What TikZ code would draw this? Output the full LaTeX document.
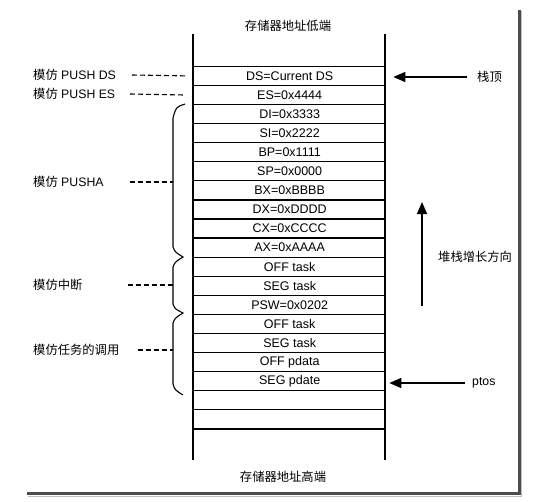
\documentclass[tikz,border=0pt]{standalone}
\usepackage{fontspec}
\setmainfont{Liberation Sans}
\newfontfamily\cjk{Noto Sans CJK SC}
\usetikzlibrary{arrows.meta}
\begin{document}
\begin{tikzpicture}[x=1pt,y=-1pt,
  cell/.style={draw,line width=1.3pt,minimum width=192pt,minimum height=19.08pt,
    inner sep=0pt,anchor=north west,font=\fontsize{12.5}{13}\selectfont},
  lbl/.style={inner sep=0pt,anchor=west,font=\fontsize{12.3}{13}\selectfont},
  cjklbl/.style={inner sep=0pt,font=\cjk\fontsize{12.3}{13}\selectfont},
  dsh/.style={line width=1.1pt,dash pattern=on 5pt off 3pt},
  brc/.style={line width=1.1pt},
  arr/.style={line width=1.3pt,-{Triangle[length=12pt,width=10pt]}},
  shadowline/.style={line width=3pt,color=black!70}]
\useasboundingbox (0,0) rectangle (545,501);
% frame shadow
\draw[shadowline] (27,493.5) -- (519,493.5) -- (519,10);
\draw[line width=1pt,black!25] (28,496) -- (521.5,496) -- (521.5,11);
% stack rows
\foreach \t [count=\i] in {DS=Current DS,ES=0x4444,DI=0x3333,SI=0x2222,BP=0x1111,
  SP=0x0000,BX=0xBBBB,DX=0xDDDD,CX=0xCCCC,AX=0xAAAA,OFF task,SEG task,PSW=0x0202,
  OFF task,SEG task,OFF pdata,SEG pdate,{},{}}
  \node[cell] (r\i) at (193,{65.7+(\i-1)*19.08}) {\t};
% vertical walls
\coordinate (lt) at (193,34); \coordinate (lb) at (193,460);
\coordinate (rt) at (385,34); \coordinate (rb) at (385,460);
\draw[line width=1.3pt] (lt) -- (lb);
\draw[line width=1.3pt] (rt) -- (rb);
% titles
\node[cjklbl] (top) at (288,26) {存储器地址低端};
\node[cjklbl] (bot) at (283,477) {存储器地址高端};
% left labels
\node[lbl] (lds) at (33,75) {{\cjk 模仿} PUSH DS};
\node[lbl] (les) at (33,94) {{\cjk 模仿} PUSH ES};
\node[lbl] (lpa) at (33,182) {{\cjk 模仿} PUSHA};
\node[cjklbl,anchor=west] (lint) at (33,285) {模仿中断};
\node[cjklbl,anchor=west] (lcall) at (33,350) {模仿任务的调用};
% braces
\draw[brc] (185,104) .. controls (176,107) .. (173,118) -- (173,247)
  .. controls (175,252) .. (183,257) .. controls (175,262) .. (173,267) -- (173,304)
  .. controls (175,309) .. (183,313) .. controls (175,318) .. (173,323) -- (173,384)
  .. controls (175,390) .. (183,395);
\coordinate (bpa) at (173,182);
\coordinate (bint) at (173,285);
\coordinate (bcall) at (173,350);
% dashed leaders
\coordinate (dds) at (132,75);
\coordinate (des) at (130,94);
\coordinate (dpa) at (130,182);
\coordinate (dint) at (128,285);
\coordinate (dcall) at (138,350);
\draw[dsh] (dds) -- ([xshift=-6pt]r1.west);
\draw[dsh] (des) -- ([xshift=-10pt]r2.west);
\draw[dsh] (dpa) -- (bpa);
\draw[dsh] (dint) -- (bint);
\draw[dsh] (dcall) -- (bcall);
% right side
\node[cjklbl,anchor=west] (stop) at (477,77) {栈顶};
\draw[arr,shorten <=10pt,shorten >=7pt] (stop.west) -- (r1.east |- stop.west);
\node[lbl] (ptos) at (472,383) {ptos};
\draw[arr,shorten <=7pt,shorten >=3pt] (ptos.west) -- (r17.east |- ptos.west);
\coordinate (gb) at (422,306);
\coordinate (gt) at (422,202);
\draw[arr] (gb) -- (gt);
\node[cjklbl,anchor=west] (grow) at (438,257) {堆栈增长方向};
\end{tikzpicture}
\end{document}
